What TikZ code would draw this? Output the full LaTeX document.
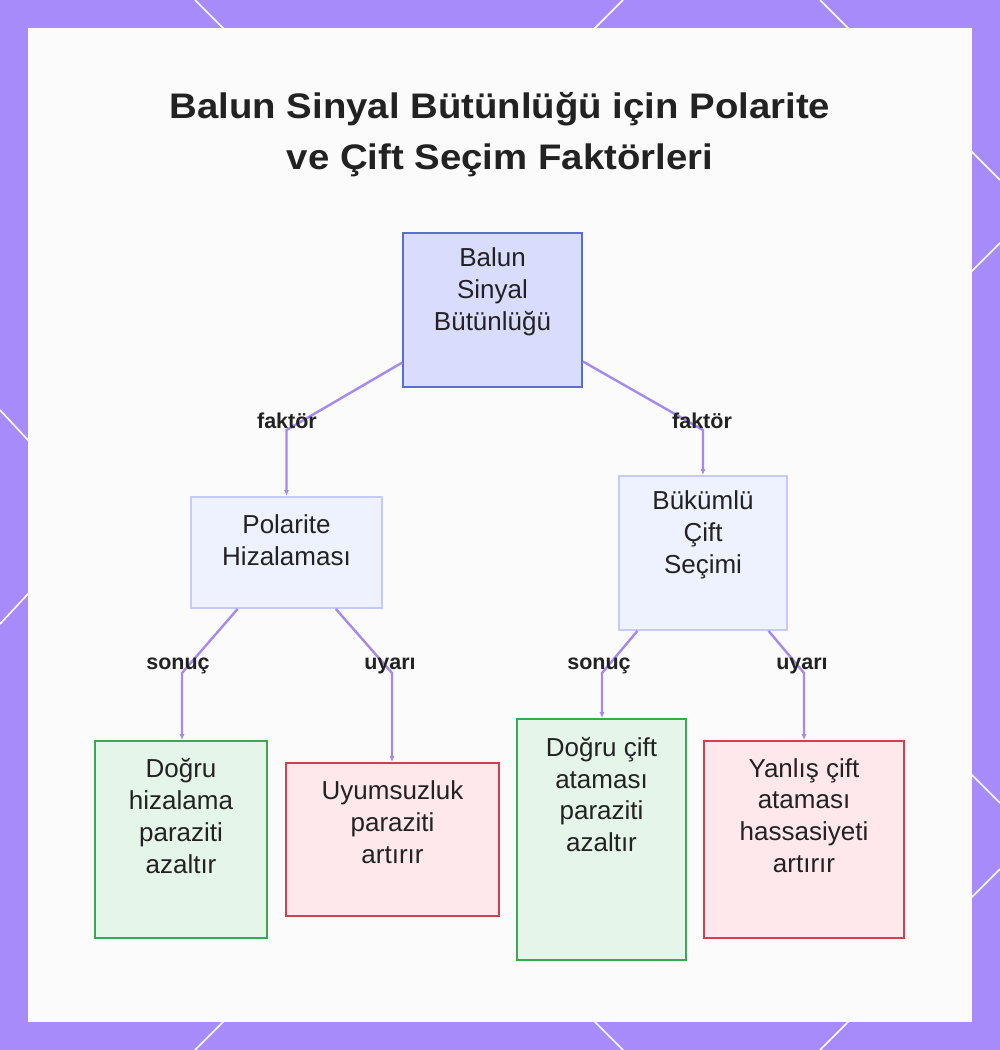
\documentclass[tikz,border=0pt]{standalone}
\usepackage{fontspec}
\setmainfont{Liberation Sans}
\newfontfamily\titlefont{Liberation Sans}[FakeStretch=1.08]
\usetikzlibrary{arrows.meta}
\definecolor{framecol}{RGB}{167,139,250}
\definecolor{panelcol}{RGB}{251,251,251}
\definecolor{conncol}{RGB}{164,138,238}
\definecolor{textcol}{RGB}{34,34,34}
\definecolor{rootfill}{RGB}{217,220,252}
\definecolor{rootdraw}{RGB}{92,108,210}
\definecolor{midfill}{RGB}{238,241,254}
\definecolor{middraw}{RGB}{197,203,245}
\definecolor{goodfill}{RGB}{230,245,233}
\definecolor{gooddraw}{RGB}{60,168,80}
\definecolor{badfill}{RGB}{255,232,236}
\definecolor{baddraw}{RGB}{210,64,80}
\tikzset{
  boxbase/.style={rectangle, inner sep=0pt, line width=1.8pt},
  rootbox/.style={boxbase, fill=rootfill, draw=rootdraw},
  midbox/.style={boxbase, fill=midfill, draw=middraw},
  goodbox/.style={boxbase, fill=goodfill, draw=gooddraw},
  badbox/.style={boxbase, fill=badfill, draw=baddraw},
  boxtext/.style={inner sep=0pt, align=center, text=textcol, font=\fontsize{26}{31.8}\selectfont},
  lbl/.style={inner sep=0pt, text=textcol, font=\fontsize{21.5}{24}\selectfont\bfseries},
  conn/.style={draw=conncol, line width=2.4pt, -{Latex[length=6pt,width=5pt]}},
  deco/.style={white, line width=1.6pt}
}
\begin{document}
\begin{tikzpicture}[x=1pt,y=-1pt]
\fill[framecol] (0,0) rectangle (1000,1050);
\useasboundingbox (0,0) rectangle (1000,1050);
% decorative white lines in the frame
\draw[deco] (195,0) -- (235,40);
\draw[deco] (623,0) -- (583,40);
\draw[deco] (820,0) -- (860,40);
\draw[deco] (195,1050) -- (235,1010);
\draw[deco] (623,1050) -- (583,1010);
\draw[deco] (820,1050) -- (860,1010);
\draw[deco] (0,410) -- (40,453);
\draw[deco] (0,624) -- (40,581);
\draw[deco] (1000,180) -- (960,140);
\draw[deco] (1000,243) -- (960,283);
\draw[deco] (1000,803) -- (960,763);
\draw[deco] (1000,869) -- (960,909);
% panel
\fill[panelcol] (28,28) rectangle (972,1022);

% title
\node[inner sep=0pt, align=center, text=textcol, font=\titlefont\fontsize{35.5}{51}\selectfont\bfseries] (title) at (500,135)
  {Balun Sinyal Bütünlüğü için Polarite\\ve Çift Seçim Faktörleri};

% boxes
\node[rootbox, minimum width=179pt, minimum height=154pt] (root) at (492.5,310) {};
\node[midbox, minimum width=191pt, minimum height=111pt] (pol) at (286.5,552.5) {};
\node[midbox, minimum width=168pt, minimum height=154pt] (buk) at (703,553) {};
\node[goodbox, minimum width=172pt, minimum height=197pt] (dh) at (181,839.5) {};
\node[badbox, minimum width=213pt, minimum height=153pt] (uy) at (392.5,839.5) {};
\node[goodbox, minimum width=169pt, minimum height=241pt] (dc) at (601.5,839.5) {};
\node[badbox, minimum width=200pt, minimum height=197pt] (yc) at (804,839.5) {};

% box texts
\node[boxtext] (roott) at (492.5,292) {Balun\\Sinyal\\Bütünlüğü};
\node[boxtext] (polt) at (286.5,540) {Polarite\\Hizalaması};
\node[boxtext] (bukt) at (703,535) {Bükümlü\\Çift\\Seçimi};
\node[boxtext] (dht) at (181,816) {Doğru\\hizalama\\paraziti\\azaltır};
\node[boxtext] (uyt) at (392.5,822) {Uyumsuzluk\\paraziti\\artırır};
\node[boxtext] (dct) at (601.5,794.5) {Doğru çift\\ataması\\paraziti\\azaltır};
\node[boxtext] (yct) at (804,815.5) {Yanlış çift\\ataması\\hassasiyeti\\artırır};

% bend points
\coordinate (b1) at (286.5,430);
\coordinate (b2) at (703,430);
\coordinate (b3) at (182,673);
\coordinate (b4) at (392,673);
\coordinate (b5) at (602,673);
\coordinate (b6) at (804,673);

% connectors
\draw[conn] (root) -- (b1) -- (pol.north);
\draw[conn] (root) -- (b2) -- (buk.north);
\draw[conn] (pol) -- (b3) -- (b3 |- dh.north);
\draw[conn] (pol) -- (b4) -- (b4 |- uy.north);
\draw[conn] (buk) -- (b5) -- (b5 |- dc.north);
\draw[conn] (buk) -- (b6) -- (b6 |- yc.north);

% labels
\node[lbl] (l1) at (287,421) {faktör};
\node[lbl] (l2) at (702,421) {faktör};
\node[lbl] (l3) at (178,666) {sonuç};
\node[lbl] (l4) at (390,666) {uyarı};
\node[lbl] (l5) at (599,666) {sonuç};
\node[lbl] (l6) at (802,666) {uyarı};
\end{tikzpicture}
\end{document}
